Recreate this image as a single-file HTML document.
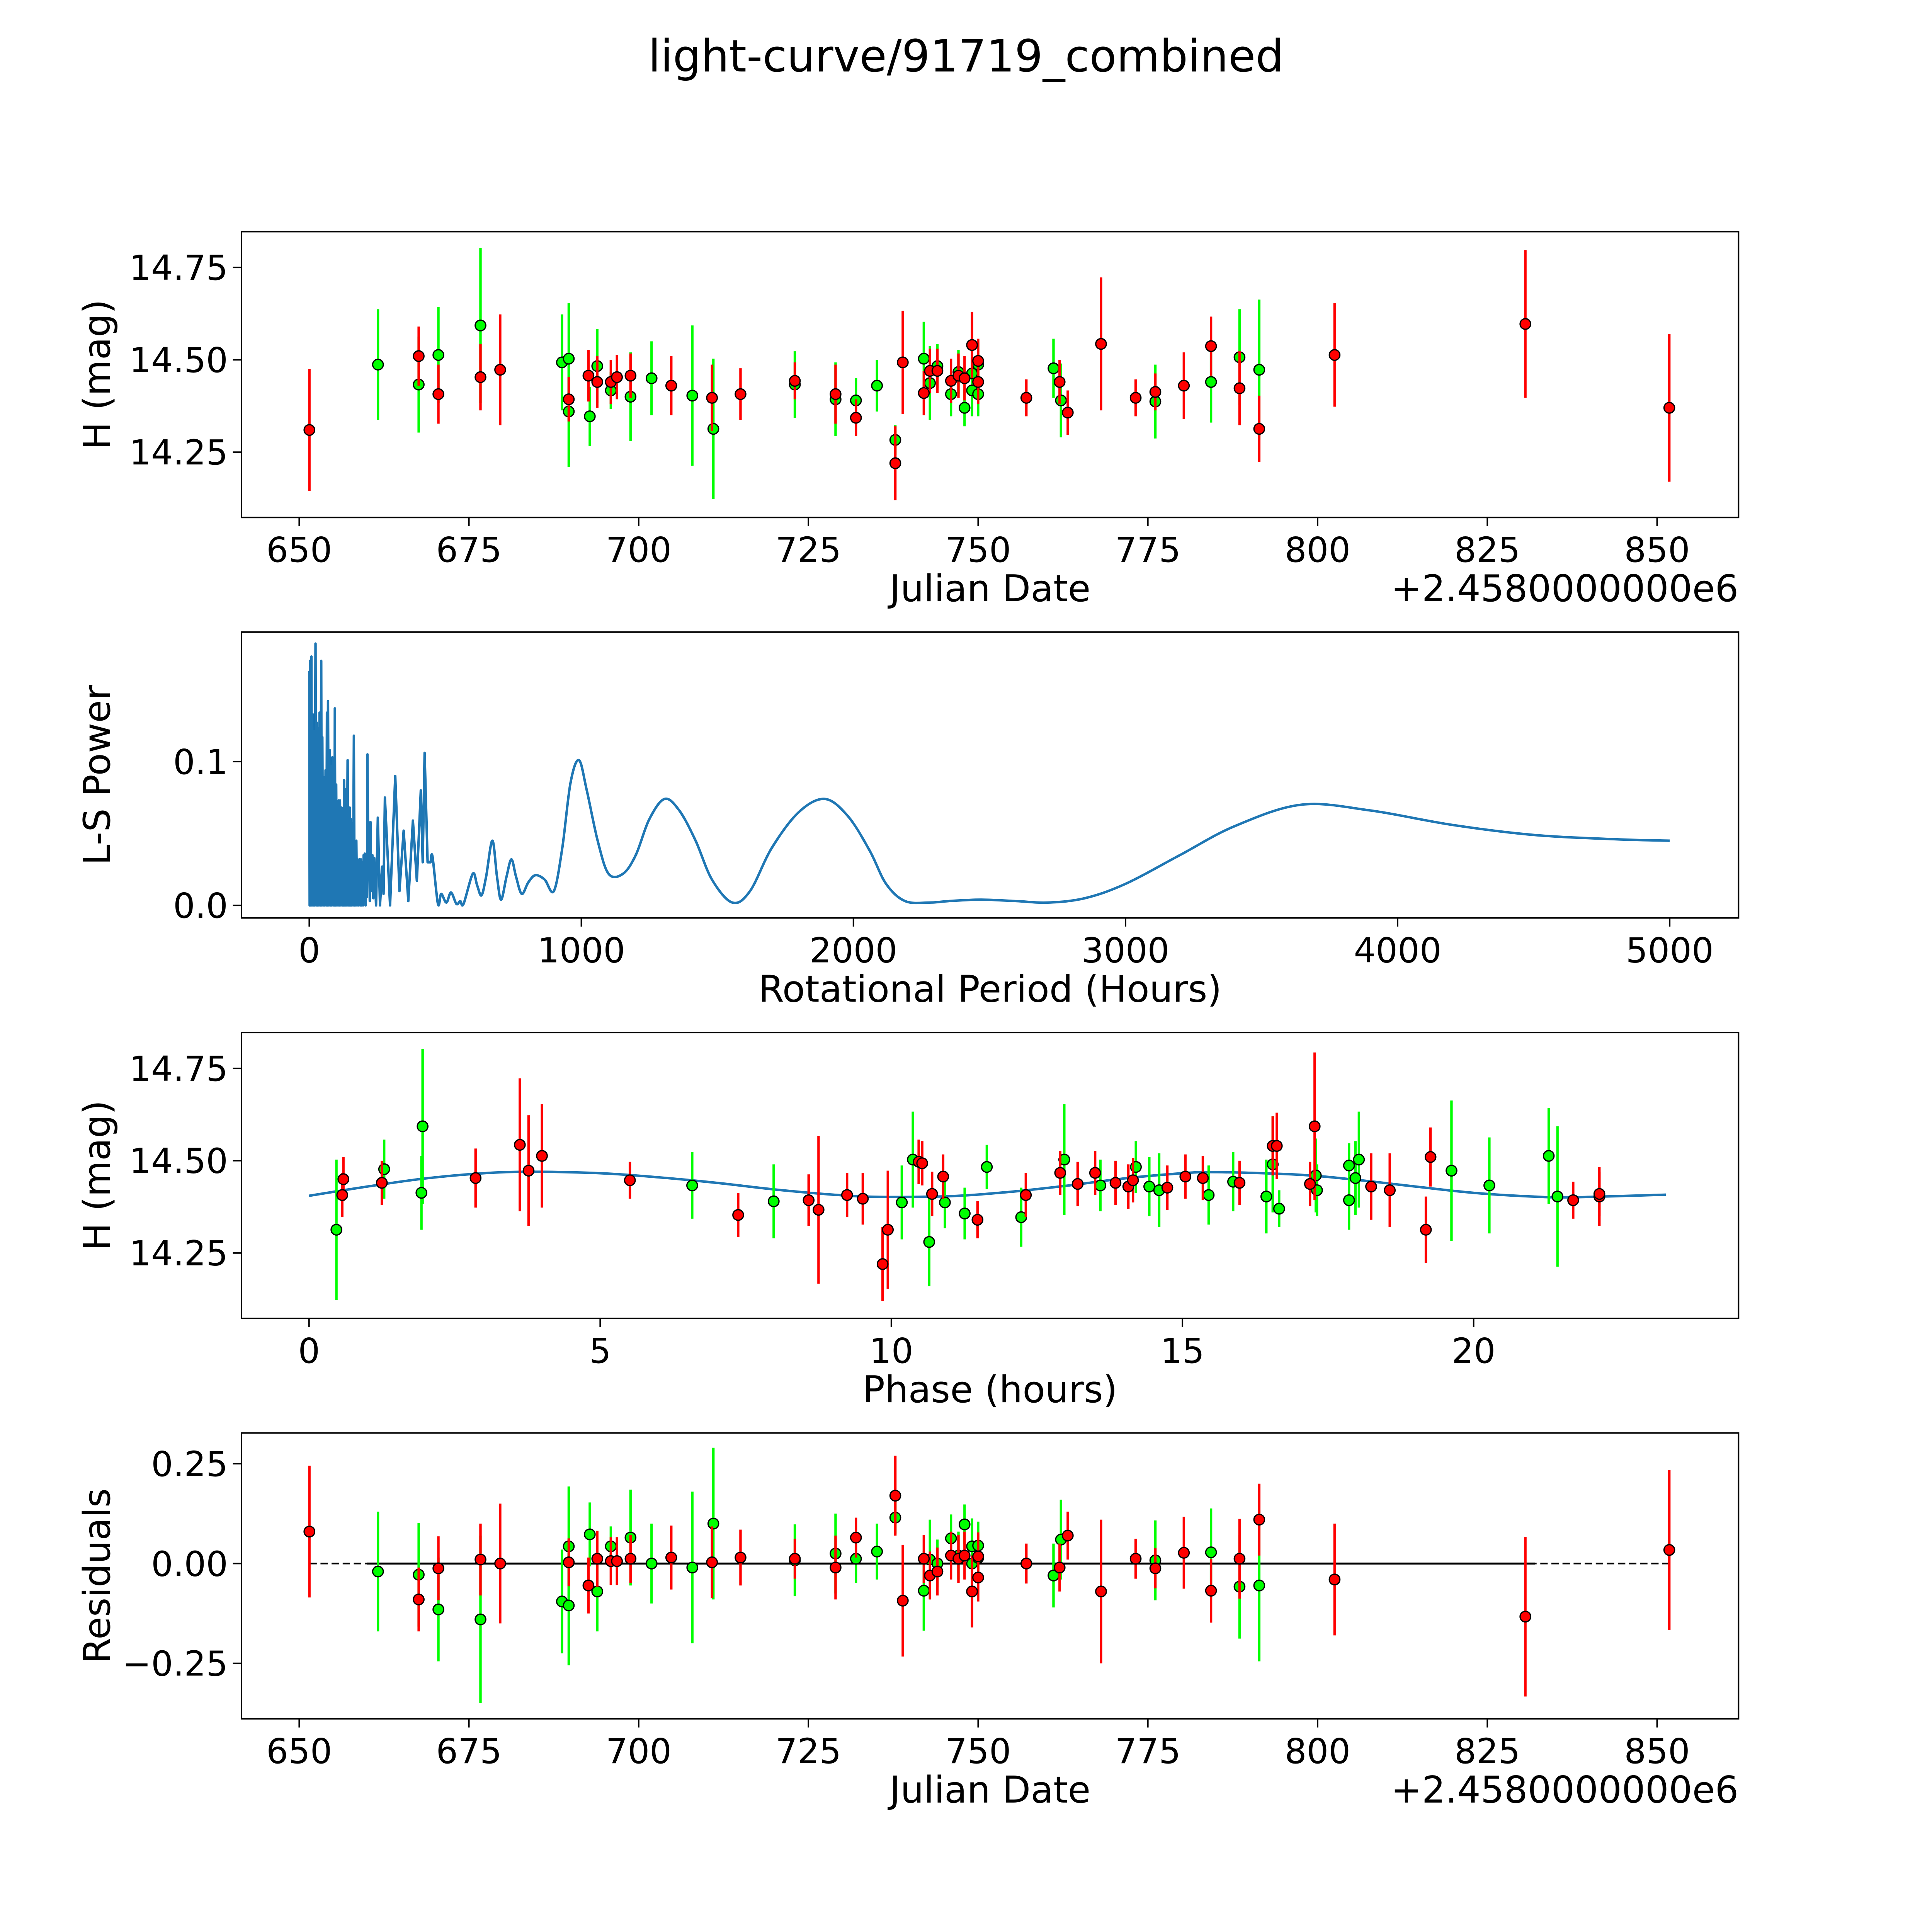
<!DOCTYPE html>
<html><head><meta charset="utf-8"><style>
html,body{margin:0;padding:0;background:#fff;overflow:hidden;width:100vw;height:100vh}
svg{display:block;width:100vw;height:100vh}
text{font-family:"DejaVu Sans","Liberation Sans",sans-serif;fill:#000}
</style></head><body>
<svg id="fig" viewBox="0 0 1568 1568" preserveAspectRatio="none" xmlns="http://www.w3.org/2000/svg">
<rect width="1568" height="1568" fill="#fff"/>
<text x="784" y="58" font-size="36" text-anchor="middle">light-curve/91719_combined</text>
</svg>
<script>
// ---- red observations (Julian date offset, H mag, error, residual) ----
const redDate=[651.5,667.6,670.5,676.7,679.6,689.7,692.6,693.9,695.9,696.8,698.8,704.8,710.8,715,723,729,732,737.8,738.9,742,742.9,744,746,747.1,748,749.1,750,750,757.1,762,763.2,768.1,773.2,776.1,780.3,784.3,788.5,791.4,802.5,830.6,851.8];
const redMag=[14.31,14.51,14.407,14.453,14.473,14.393,14.457,14.44,14.44,14.453,14.457,14.43,14.397,14.407,14.443,14.407,14.343,14.22,14.493,14.41,14.47,14.47,14.443,14.457,14.45,14.54,14.497,14.44,14.397,14.44,14.357,14.543,14.397,14.413,14.43,14.537,14.423,14.313,14.513,14.597,14.37];
const redErr=[0.165,0.08,0.08,0.09,0.15,0.06,0.07,0.07,0.06,0.06,0.06,0.08,0.09,0.07,0.05,0.08,0.05,0.1,0.14,0.06,0.06,0.06,0.06,0.06,0.06,0.09,0.06,0.06,0.05,0.06,0.06,0.18,0.05,0.05,0.09,0.08,0.1,0.09,0.14,0.2,0.2];
const redRes=[0.08,-0.09,-0.012,0.01,0,0.003,-0.055,0.012,0.006,0.006,0.012,0.015,0.003,0.015,0.012,-0.01,0.065,0.17,-0.093,0.012,-0.03,-0.02,0.02,0.012,0.02,-0.07,0.018,-0.035,0,-0.01,0.07,-0.07,0.012,-0.012,0.027,-0.068,0.012,0.11,-0.04,-0.133,0.034];
// ---- green observations ----
const grnDate=[661.6,667.6,670.5,676.7,688.7,689.7,689.7,692.8,693.9,695.9,698.8,701.9,707.9,711,723,729,732,735.1,737.8,742,742.9,744,746,747.1,748,749.1,749.1,750,750,761.1,762.2,776.1,784.3,788.5,791.4];
const grnMag=[14.487,14.433,14.513,14.593,14.493,14.503,14.36,14.347,14.483,14.417,14.4,14.45,14.403,14.313,14.433,14.393,14.39,14.43,14.283,14.503,14.437,14.483,14.407,14.467,14.37,14.463,14.417,14.407,14.487,14.477,14.39,14.387,14.44,14.507,14.473];
const grnErr=[0.15,0.13,0.13,0.21,0.13,0.15,0.15,0.08,0.1,0.05,0.12,0.1,0.19,0.19,0.09,0.1,0.06,0.07,0.04,0.1,0.1,0.06,0.06,0.06,0.05,0.07,0.07,0.06,0.06,0.08,0.1,0.1,0.11,0.13,0.19];
const grnRes=[-0.02,-0.028,-0.115,-0.14,-0.095,-0.105,0.043,0.073,-0.07,0.043,0.065,0,-0.01,0.1,0.008,0.025,0.012,0.03,0.115,-0.068,0.01,0,0.063,0.02,0.098,0.043,0,0.045,0.014,-0.03,0.06,0.008,0.028,-0.058,-0.055];
// ---- phase-folded ----
const redPhase=[0.57,0.59,1.25,2.86,3.62,3.77,4.0,5.51,7.37,8.58,8.75,9.24,9.51,9.85,9.94,10.47,10.53,10.7,10.89,11.48,12.31,12.9,13.2,13.5,13.85,14.07,14.15,14.74,15.05,15.35,15.98,16.55,16.62,17.19,17.27,18.24,18.56,19.18,19.26,21.71,22.16,22.16];
const redPMag=[14.407,14.45,14.44,14.453,14.543,14.473,14.513,14.447,14.353,14.393,14.367,14.407,14.397,14.22,14.313,14.497,14.493,14.41,14.457,14.34,14.407,14.467,14.437,14.467,14.44,14.43,14.447,14.427,14.457,14.453,14.44,14.54,14.54,14.437,14.593,14.43,14.42,14.313,14.51,14.393,14.403,14.41];
const redPErr=[0.06,0.06,0.06,0.08,0.18,0.15,0.14,0.05,0.06,0.07,0.2,0.06,0.07,0.1,0.16,0.06,0.06,0.06,0.06,0.05,0.06,0.06,0.06,0.06,0.06,0.06,0.06,0.06,0.06,0.06,0.06,0.08,0.09,0.06,0.2,0.09,0.1,0.09,0.08,0.05,0.08,0.06];
const grnPhase=[0.47,1.29,1.93,1.95,6.58,7.98,10.18,10.37,10.65,10.92,11.26,11.64,12.23,12.97,13.59,14.2,14.43,14.6,15.45,15.87,16.44,16.55,16.66,17.31,17.29,17.86,17.86,17.97,18.03,19.62,20.27,21.29,21.44];
const grnPMag=[14.313,14.477,14.413,14.593,14.433,14.39,14.387,14.503,14.28,14.387,14.357,14.483,14.347,14.503,14.433,14.483,14.43,14.42,14.407,14.443,14.403,14.49,14.37,14.42,14.46,14.393,14.487,14.453,14.503,14.473,14.433,14.513,14.403];
const grnPErr=[0.19,0.08,0.1,0.21,0.09,0.1,0.1,0.13,0.12,0.07,0.07,0.06,0.08,0.15,0.07,0.07,0.08,0.1,0.08,0.08,0.1,0.13,0.05,0.07,0.1,0.08,0.06,0.1,0.13,0.19,0.13,0.13,0.19];
// fitted model
const fitPhase=[0,1,2,3,3.8,5,6,7,8,9,9.8,11,12,13,14,15,15.6,17,18,19,20,21,21.7,23.3];
const fitMag=[14.405,14.43,14.452,14.466,14.47,14.466,14.455,14.44,14.422,14.408,14.402,14.404,14.415,14.432,14.452,14.466,14.469,14.462,14.448,14.43,14.413,14.403,14.401,14.408];
// Lomb-Scargle: noisy short-period part (peaks and following troughs)
const lsPeakPeriod=[0,3,8,12,17,23,28,33,38,44, 48,54,60,65,69,75,80,85,91,94, 99,104,108,113,119,124,128,133,136,141, 145,149,153,158,164,169,173,178,185,190, 195,200,204,210,214,220,225,232,239,252, 268,278,316,347,381,410,424];
const lsPeakPower=[.163,.170,.173,.133,.121,.182,.127,.123,.134,.170, .117,.089,.094,.134,.142,.108,.097,.103,.081,.137, .084,.070,.073,.073,.068,.065,.087,.080,.081,.101, .058,.068,.060,.057,.118,.040,.045,.032,.032,.032, .030,.035,.036,.035,.105,.034,.058,.035,.033,.061, .027,.075,.090,.052,.059,.080,.106];
const lsTroughPower=[0,0,0,0,0,0,0,0,0,0, 0,0,0,0,0,0,0,0,0,0, 0,0,0,0,0,0,0,0,0,0, 0,0,0,0,0,0,0,0,0,0, 0,.005,0,.006,.03,.003,.01,.005,0,0, .008,0,.01,.003,.017,.03,.03];
// Lomb-Scargle: smooth long-period part
const lsPeriod=[446,453,473,485,504,521,541,555,567,601, 617,633,650,673,690,705,725,743,760,781, 805,831,865,899,930,960,991,1020,1060,1100, 1153,1200,1250,1306,1360,1420,1480,1555,1620,1700, 1800,1895,1980,2060,2120,2190,2280,2350,2466,2600, 2715,2850,3000,3200,3400,3645,3900,4200,4500,4800, 5000];
const lsPower=[.030,.034,.001,.008,.002,.009,.001,.003,.001,.022, .014,.007,.02,.045,.02,.004,.02,.032,.02,.008, .016,.021,.018,.010,.04,.085,.101,.08,.045,.022, .022,.035,.06,.074,.066,.045,.018,.002,.01,.04, .065,.074,.062,.038,.015,.003,.002,.003,.004,.003, .002,.005,.015,.035,.055,.07,.066,.056,.049,.046, .045];

const svg=document.getElementById('fig');
const NS='http://www.w3.org/2000/svg';
function mk(tag,attrs,parent){const e=document.createElementNS(NS,tag);for(const k in attrs)e.setAttribute(k,attrs[k]);(parent||svg).appendChild(e);return e;}
const L=196,R=1411,H=232;
const tops=[188,513,838,1163];
const TF=28, LF=30;
function axis(top,x0,x1,y0,y1){return{X:v=>L+(v-x0)/(x1-x0)*(R-L),Y:v=>top+H-(v-y0)/(y1-y0)*H};}
function smooth(P){let d='M'+P[0][0].toFixed(2)+','+P[0][1].toFixed(2);
  for(let i=0;i<P.length-1;i++){const p0=P[Math.max(0,i-1)],p1=P[i],p2=P[i+1],p3=P[Math.min(P.length-1,i+2)];
    const c1=[p1[0]+(p2[0]-p0[0])/6,p1[1]+(p2[1]-p0[1])/6],c2=[p2[0]-(p3[0]-p1[0])/6,p2[1]-(p3[1]-p1[1])/6];
    d+=`C${c1[0].toFixed(2)},${c1[1].toFixed(2)} ${c2[0].toFixed(2)},${c2[1].toFixed(2)} ${p2[0].toFixed(2)},${p2[1].toFixed(2)}`;}
  return d;}
function frame(top,name,ax,xt,xl,yt,yl,xlabel,ylabel){
  const g=mk('g',{});
  
  
  xt.forEach((v,i)=>{const x=ax.X(v);mk('line',{x1:x,x2:x,y1:top+H,y2:top+H+7,stroke:'#000','stroke-width':1.2},g);
    const t=mk('text',{x:x,y:top+H+36,'font-size':TF,'text-anchor':'middle'},g);t.textContent=xl[i];
    
    });
  yt.forEach((v,i)=>{const y=ax.Y(v);mk('line',{x1:L-7,x2:L,y1:y,y2:y,stroke:'#000','stroke-width':1.2},g);
    const t=mk('text',{x:L-11,y:y+10,'font-size':TF,'text-anchor':'end'},g);t.textContent=yl[i];
    
    });
  const xlab=mk('text',{x:(L+R)/2,y:top+H+68,'font-size':LF,'text-anchor':'middle'},g);xlab.textContent=xlabel;
  
  
  const ylab=mk('text',{x:0,y:0,'font-size':LF,'text-anchor':'middle',transform:`translate(${L-107},${top+H/2}) rotate(-90)`},g);ylab.textContent=ylabel;
  
  
  return g;
}
function border(top){const r=mk('rect',{x:L,y:top,width:R-L,height:H,fill:'none',stroke:'#000','stroke-width':1.2});
  
  }
function pts(ax,xs,ys,es,col,g){
  xs.forEach((v,i)=>{const x=ax.X(v);
    const l=mk('line',{x1:x,x2:x,y1:ax.Y(ys[i]-es[i]),y2:ax.Y(ys[i]+es[i]),stroke:col,'stroke-width':2},g);
    
    });
  xs.forEach((v,i)=>{const c=mk('circle',{cx:ax.X(v),cy:ax.Y(ys[i]),r:4.3,fill:col,stroke:'#000','stroke-width':1},g);
    
    });
}
const dTicks=[650,675,700,725,750,775,800,825,850];
const dLabels=dTicks.map(String);
function offsetLabel(top){const t=mk('text',{x:R,y:top+H+68,'font-size':LF,'text-anchor':'end'});t.textContent='+2.4580000000e6';
  
  }
// Panel 1
{const top=tops[0];const ax=axis(top,641.5,862,14.073,14.847);
 frame(top,'light-curve-panel',ax,dTicks,dLabels,[14.25,14.5,14.75],['14.25','14.50','14.75'],'Julian Date','H (mag)');
 offsetLabel(top);
 const g=mk('g',{});
 pts(ax,grnDate,grnMag,grnErr,'#00ff00',g);
 pts(ax,redDate,redMag,redErr,'#ff0000',g);
 border(top);}
// Panel 2
{const top=tops[1];const ax=axis(top,-249,5253,-0.0087,0.190);
 frame(top,'periodogram-panel',ax,[0,1000,2000,3000,4000,5000],['0','1000','2000','3000','4000','5000'],[0,0.1],['0.0','0.1'],'Rotational Period (Hours)','L-S Power');
 let d='';
 lsPeakPeriod.forEach((p,i)=>{
   d+=(i?'L':'M')+ax.X(p).toFixed(2)+','+ax.Y(lsPeakPower[i]).toFixed(2);
   const next=i<lsPeakPeriod.length-1?lsPeakPeriod[i+1]:lsPeriod[0];
   d+='L'+ax.X((p+next)/2).toFixed(2)+','+ax.Y(lsTroughPower[i]).toFixed(2);
 });
 const sp=lsPeriod.map((p,i)=>[ax.X(p),ax.Y(lsPower[i])]);
 d+='L'+smooth(sp).slice(1);
 const p=mk('path',{d:d,fill:'none',stroke:'#1f77b4','stroke-width':2,'stroke-linejoin':'round'});
 
 
 border(top);}
// Panel 3
{const top=tops[2];const ax=axis(top,-1.16,24.55,14.073,14.847);
 frame(top,'phase-panel',ax,[0,5,10,15,20],['0','5','10','15','20'],[14.25,14.5,14.75],['14.25','14.50','14.75'],'Phase (hours)','H (mag)');
 const fp=fitPhase.map((p,i)=>[ax.X(p),ax.Y(fitMag[i])]);
 const p=mk('path',{d:smooth(fp),fill:'none',stroke:'#1f77b4','stroke-width':2});
 
 
 const g=mk('g',{});
 pts(ax,grnPhase,grnPMag,grnPErr,'#00ff00',g);
 pts(ax,redPhase,redPMag,redPErr,'#ff0000',g);
 border(top);}
// Panel 4
{const top=tops[3];const ax=axis(top,641.5,862,-0.389,0.327);
 frame(top,'residuals-panel',ax,dTicks,dLabels,[-0.25,0,0.25],['\u22120.25','0.00','0.25'],'Julian Date','Residuals');
 offsetLabel(top);
 const dl=mk('line',{x1:ax.X(651.5),x2:ax.X(851.8),y1:ax.Y(0),y2:ax.Y(0),stroke:'#000','stroke-width':1.3,'stroke-dasharray':'6,3'});
 
 
 const sl=mk('line',{x1:ax.X(660),x2:ax.X(832),y1:ax.Y(0),y2:ax.Y(0),stroke:'#000','stroke-width':1.6});
 
 
 const g=mk('g',{});
 pts(ax,grnDate,grnRes,grnErr,'#00ff00',g);
 pts(ax,redDate,redRes,redErr,'#ff0000',g);
 border(top);}
</script>
</body></html>
